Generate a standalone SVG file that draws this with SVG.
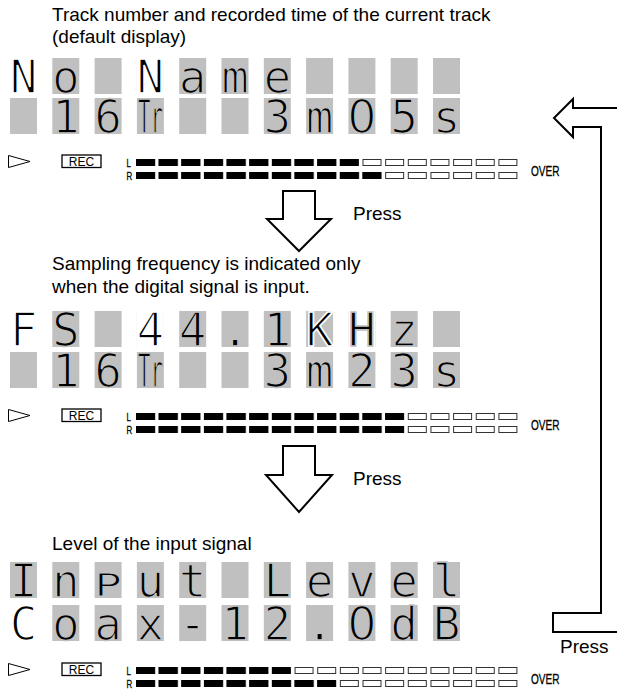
<svg xmlns="http://www.w3.org/2000/svg" xmlns:xlink="http://www.w3.org/1999/xlink" width="617" height="693" viewBox="0 0 617 693">
<style>
.t{font-family:"Liberation Sans",Arial,sans-serif;font-size:19px;fill:#000}
.cg{fill:#c0c0c0}
.cw{fill:#fff}
.lcd{font-family:"DejaVu Sans Mono",monospace;font-size:46px;fill:#000;text-anchor:middle;stroke:#c0c0c0;stroke-width:1.6}
.lcd.w{stroke:#fff}
.z{font-family:"DejaVu Sans",sans-serif}
.arr{fill:#fff;stroke:#000;stroke-width:2;stroke-linejoin:miter}
.lbl{font-family:"Liberation Sans",Arial,sans-serif;font-size:12px;fill:#000}
.cond{font-family:"Liberation Sans",Arial,sans-serif;fill:#000;stroke:#000;stroke-width:0.3}
.off{fill:#fff;stroke:#333;stroke-width:1}
</style>
<defs>
<pattern id="onpat" patternUnits="userSpaceOnUse" x="136" y="0" width="22.65" height="7"><rect width="19" height="7" fill="#000"/></pattern>
<g id="offrow">
<rect class="off" x="136.5" y="0.5" width="18" height="6"/><rect class="off" x="159.15" y="0.5" width="18" height="6"/><rect class="off" x="181.8" y="0.5" width="18" height="6"/><rect class="off" x="204.45" y="0.5" width="18" height="6"/><rect class="off" x="227.1" y="0.5" width="18" height="6"/><rect class="off" x="249.75" y="0.5" width="18" height="6"/><rect class="off" x="272.4" y="0.5" width="18" height="6"/><rect class="off" x="295.05" y="0.5" width="18" height="6"/><rect class="off" x="317.7" y="0.5" width="18" height="6"/><rect class="off" x="340.35" y="0.5" width="18" height="6"/><rect class="off" x="363" y="0.5" width="18" height="6"/><rect class="off" x="385.65" y="0.5" width="18" height="6"/><rect class="off" x="408.3" y="0.5" width="18" height="6"/><rect class="off" x="430.95" y="0.5" width="18" height="6"/><rect class="off" x="453.6" y="0.5" width="18" height="6"/><rect class="off" x="476.25" y="0.5" width="18" height="6"/><rect class="off" x="498.9" y="0.5" width="18" height="6"/>
</g>
<g id="meterhead">
<polygon points="8.5,-3.5 30,2.5 8.5,8.5" fill="#fff" stroke="#000" stroke-width="1"/>
<rect x="62" y="-4" width="39" height="12.5" fill="#fff" stroke="#000" stroke-width="1.3"/>
<text class="lbl" x="81.5" y="7" text-anchor="middle">REC</text>
<text class="cond" font-size="11" transform="translate(126.5,7.5) scale(0.72,1)">L</text>
<text class="cond" font-size="11" transform="translate(126.5,20.5) scale(0.72,1)">R</text>
<text class="cond" font-size="14" transform="translate(531,16.5) scale(0.72,1)">OVER</text>
</g>
<g id="row11">
<rect class="cg" x="10" y="0" width="27" height="36"/><rect class="cg" x="52.3" y="0" width="27" height="36"/><rect class="cg" x="94.6" y="0" width="27" height="36"/><rect class="cg" x="136.9" y="0" width="27" height="36"/><rect class="cg" x="179.2" y="0" width="27" height="36"/><rect class="cg" x="221.5" y="0" width="27" height="36"/><rect class="cg" x="263.8" y="0" width="27" height="36"/><rect class="cg" x="306.1" y="0" width="27" height="36"/><rect class="cg" x="348.4" y="0" width="27" height="36"/><rect class="cg" x="390.7" y="0" width="27" height="36"/><rect class="cg" x="433" y="0" width="27" height="36"/>
</g>
</defs>

<g id="caption1">
<text class="t" x="52" y="21">Track number and recorded time of the current track</text>
<text class="t" x="52" y="43">(default display)</text>
</g>

<g id="display1">
<use xlink:href="#row11" y="58"/>
<rect class="cw" x="10" y="58" width="27" height="36"/><rect class="cw" x="136.9" y="58" width="27" height="36"/>
<use xlink:href="#row11" y="98"/>
<text class="lcd w" x="23.5" y="92.5">N</text>
<text class="lcd" x="65.8" y="92.5">o</text>
<text class="lcd w" x="150.4" y="92.5">N</text>
<text class="lcd" x="192.7" y="92.5">a</text>
<text class="lcd" x="235" y="92.5">m</text>
<text class="lcd" x="277.3" y="92.5">e</text>
<text class="lcd" x="65.8" y="132.5">1</text>
<text class="lcd" x="108.1" y="132.5">6</text>
<text class="lcd" x="150.4" y="132.5" textLength="25" lengthAdjust="spacingAndGlyphs">Tr</text>
<text class="lcd" x="277.3" y="132.5">3</text>
<text class="lcd" x="319.6" y="132.5">m</text>
<text class="lcd z" x="361.9" y="132.5">0</text>
<text class="lcd" x="404.2" y="132.5">5</text>
<text class="lcd" x="446.5" y="132.5">s</text>
</g>

<g id="meter1" transform="translate(0,159)">
<use xlink:href="#meterhead"/>
<use xlink:href="#offrow"/>
<rect x="136" y="0" width="222.85" height="7" fill="url(#onpat)"/>
<g transform="translate(0,13)"><use xlink:href="#offrow"/><rect x="136" y="0" width="245.5" height="7" fill="url(#onpat)"/></g>
</g>

<g id="caption2">
<text class="t" x="52" y="270">Sampling frequency is indicated only</text>
<text class="t" x="52" y="293">when the digital signal is input.</text>
</g>

<g id="display2">
<use xlink:href="#row11" y="311"/>
<rect class="cw" x="10" y="311" width="27" height="36"/><rect class="cw" x="136.9" y="311" width="27" height="36"/><rect class="cw" x="348.4" y="311" width="27" height="36"/>
<use xlink:href="#row11" y="352"/>
<text class="lcd w" x="23.5" y="345.5">F</text>
<text class="lcd" x="65.8" y="345.5">S</text>
<text class="lcd w" x="150.4" y="345.5">4</text>
<text class="lcd" x="192.7" y="345.5">4</text>
<text class="lcd" x="235" y="345.5">.</text>
<text class="lcd" x="277.3" y="345.5">1</text>
<text class="lcd w" x="319.6" y="345.5">K</text>
<text class="lcd" x="361.9" y="345.5">H</text>
<text class="lcd" x="404.2" y="345.5">z</text>
<text class="lcd" x="65.8" y="386.5">1</text>
<text class="lcd" x="108.1" y="386.5">6</text>
<text class="lcd" x="150.4" y="386.5" textLength="25" lengthAdjust="spacingAndGlyphs">Tr</text>
<text class="lcd" x="277.3" y="386.5">3</text>
<text class="lcd" x="319.6" y="386.5">m</text>
<text class="lcd" x="361.9" y="386.5">2</text>
<text class="lcd" x="404.2" y="386.5">3</text>
<text class="lcd" x="446.5" y="386.5">s</text>
</g>

<g id="meter2" transform="translate(0,413)">
<use xlink:href="#meterhead"/>
<use xlink:href="#offrow"/>
<rect x="136" y="0" width="268.15" height="7" fill="url(#onpat)"/>
<g transform="translate(0,13)"><use xlink:href="#offrow"/><rect x="136" y="0" width="268.15" height="7" fill="url(#onpat)"/></g>
</g>

<g id="caption3">
<text class="t" x="52" y="550">Level of the input signal</text>
</g>

<g id="display3">
<use xlink:href="#row11" y="562"/>
<use xlink:href="#row11" y="605"/>
<rect class="cw" x="10" y="605" width="27" height="36"/>
<text class="lcd" x="23.5" y="596.5">I</text>
<text class="lcd" x="65.8" y="596.5">n</text>
<text class="lcd" x="108.1" y="596.5" transform="translate(0,178.95) scale(1,0.7)">P</text>
<text class="lcd" x="150.4" y="596.5">u</text>
<text class="lcd" x="192.7" y="596.5">t</text>
<text class="lcd" x="277.3" y="596.5">L</text>
<text class="lcd" x="319.6" y="596.5">e</text>
<text class="lcd" x="361.9" y="596.5">v</text>
<text class="lcd" x="404.2" y="596.5">e</text>
<text class="lcd" x="446.5" y="596.5">l</text>
<text class="lcd w" x="23.5" y="639.5">C</text>
<text class="lcd" x="65.8" y="639.5">o</text>
<text class="lcd" x="108.1" y="639.5">a</text>
<text class="lcd" x="150.4" y="639.5">x</text>
<text class="lcd" x="192.7" y="639.5">-</text>
<text class="lcd" x="235" y="639.5">1</text>
<text class="lcd" x="277.3" y="639.5">2</text>
<text class="lcd" x="319.6" y="639.5">.</text>
<text class="lcd z" x="361.9" y="639.5">0</text>
<text class="lcd" x="404.2" y="639.5">d</text>
<text class="lcd" x="446.5" y="639.5">B</text>
</g>

<g id="meter3" transform="translate(0,667)">
<use xlink:href="#meterhead"/>
<use xlink:href="#offrow"/>
<rect x="136" y="0" width="154.9" height="7" fill="url(#onpat)"/>
<g transform="translate(0,13)"><use xlink:href="#offrow"/><rect x="136" y="0" width="200.2" height="7" fill="url(#onpat)"/></g>
</g>

<g id="connectors">
<polygon class="arr" points="283,191 315,191 315,219 331,219 299,251 267,219 283,219"/>
<polygon class="arr" points="283,446 315,446 315,475 332,475 299,512 266,475 283,475"/>
<path class="arr" fill="none" d="M620,108 H573 V99 L554,118 L573,137 V127 H601 V613 H553 V632 H620"/>
</g>

<g id="labels">
<text class="t" x="353" y="220">Press</text>
<text class="t" x="353" y="485">Press</text>
<text class="t" x="560" y="653">Press</text>
</g>
</svg>
